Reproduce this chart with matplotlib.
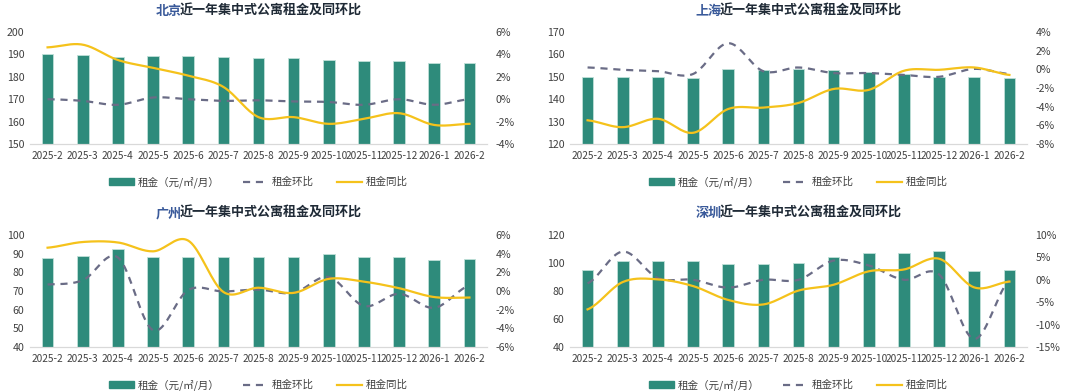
import numpy as np
import matplotlib
matplotlib.use("Agg")
import matplotlib.pyplot as plt
from matplotlib.patches import Patch
from matplotlib.lines import Line2D

plt.rcParams['font.family'] = ['Noto Sans CJK SC', 'DejaVu Sans']

months = ["2025-2", "2025-3", "2025-4", "2025-5", "2025-6", "2025-7", "2025-8",
          "2025-9", "2025-10", "2025-11", "2025-12", "2026-1", "2026-2"]

cities = ["北京", "上海", "广州", "深圳"]

bj_rent = [190.3, 189.9, 189.0, 189.3, 189.3, 189.0, 188.5, 188.2, 187.6, 187.0, 187.0, 186.0, 186.0]
bj_yoy = [4.63, 4.87, 3.5, 2.8, 2.1, 1.1, -1.6, -1.6, -2.2, -1.75, -1.25, -2.3, -2.2]
bj_mom = [0.0, -0.15, -0.5, 0.15, 0.0, -0.15, -0.1, -0.2, -0.25, -0.5, 0.0, -0.5, 0.0]

sh_rent = [150.0, 150.0, 150.0, 149.5, 153.6, 153.2, 153.6, 152.9, 152.1, 151.4, 150.0, 150.0, 149.3]
sh_yoy = [-5.46, -6.2, -5.3, -6.8, -4.25, -4.1, -3.6, -2.1, -2.2, -0.15, -0.05, 0.2, -0.6]
sh_mom = [0.2, -0.05, -0.2, -0.5, 2.8, -0.2, 0.2, -0.4, -0.4, -0.6, -0.8, 0.05, -0.5]

gz_rent = [87.9, 88.9, 92.3, 88.0, 88.0, 88.0, 88.4, 88.4, 89.6, 88.0, 88.0, 86.6, 87.0]
gz_yoy = [4.64, 5.25, 5.2, 4.25, 5.4, -0.1, 0.35, -0.2, 1.3, 1.0, 0.3, -0.65, -0.7]
gz_mom = [0.7, 1.15, 3.6, -4.2, 0.1, -0.05, 0.15, -0.2, 1.5, -1.6, -0.3, -1.8, 0.6]

sz_rent = [94.8, 101.2, 101.7, 101.7, 99.5, 99.5, 100.2, 104.3, 107.4, 107.4, 108.6, 94.3, 94.8]
sz_yoy = [-6.6, -0.5, 0.1, -1.4, -4.5, -5.5, -2.4, -1.1, 1.9, 2.3, 4.7, -1.7, -0.4]
sz_mom = [-0.8, 6.3, 0.4, 0.0, -1.75, 0.0, 0.0, 4.3, 3.2, 0.0, 1.2, -13.2, -0.1]

left_ticks = [list(range(150, 201, 10)), list(range(120, 171, 10)),
              list(range(40, 101, 10)), list(range(40, 121, 20))]
right_ticks = [list(range(-4, 7, 2)), list(range(-8, 5, 2)),
               list(range(-6, 7, 2)), list(range(-15, 11, 5))]

rent_label = "租金（元/㎡/月）"
mom_label = "租金环比"
yoy_label = "租金同比"
title_rest = "近一年集中式公寓租金及同环比"

BAR = "#2E8B7B"
YEL = "#F5C21B"
DASH = "#6A6C86"
TXT = "#404040"


def smooth(y, n=20):
    y = np.asarray(y, float)
    x = np.arange(len(y), dtype=float)
    p = np.concatenate([[y[0]], y, [y[-1]]])
    xs, ys = [], []
    for i in range(len(y) - 1):
        p0, p1, p2, p3 = p[i], p[i + 1], p[i + 2], p[i + 3]
        t = np.linspace(0, 1, n, endpoint=False)
        v = 0.5 * ((2 * p1) + (-p0 + p2) * t + (2 * p0 - 5 * p1 + 4 * p2 - p3) * t ** 2
                   + (-p0 + 3 * p1 - 3 * p2 + p3) * t ** 3)
        xs.append(x[i] + t)
        ys.append(v)
    xs.append([x[-1]])
    ys.append([y[-1]])
    return np.concatenate(xs), np.concatenate(ys)


fig = plt.figure(figsize=(10.8, 3.91), dpi=100)
fig.patch.set_facecolor("white")

positions = [
    (30 / 1080, 1 - 144 / 391, 457 / 1080, 112 / 391),
    (570 / 1080, 1 - 144 / 391, 457 / 1080, 112 / 391),
    (30 / 1080, 1 - 347 / 391, 457 / 1080, 112 / 391),
    (570 / 1080, 1 - 347 / 391, 457 / 1080, 112 / 391),
]
data = [(bj_rent, bj_yoy, bj_mom), (sh_rent, sh_yoy, sh_mom),
        (gz_rent, gz_yoy, gz_mom), (sz_rent, sz_yoy, sz_mom)]
title_y = [11 / 391, 11 / 391, 213 / 391, 213 / 391]

titles = []
for k in range(4):
    rent, yoy, mom = data[k]
    ax = fig.add_axes(positions[k])
    ax2 = ax.twinx()
    x = np.arange(len(months))
    ax.bar(x, rent, width=0.33, color=BAR, edgecolor="#BFE0D8", linewidth=0.6, zorder=2)
    lt = left_ticks[k]
    ax.set_ylim(lt[0], lt[-1])
    ax.set_yticks(lt)
    ax.set_xlim(-0.5, len(months) - 0.5)
    ax.set_xticks(x)
    ax.set_xticklabels(months)
    rt = right_ticks[k]
    ax2.set_ylim(rt[0], rt[-1])
    ax2.set_yticks(rt)
    ax2.set_yticklabels([f"{v}%" for v in rt])
    xm, ym = smooth(mom)
    xy, yy = smooth(yoy)
    ax2.plot(xm, ym, color=DASH, lw=1.6, dashes=(3.2, 2.6), zorder=3)
    ax2.plot(xy, yy, color=YEL, lw=1.6, zorder=4)
    for a in (ax, ax2):
        for s in ("top", "left", "right"):
            a.spines[s].set_visible(False)
        a.spines["bottom"].set_color("#D9D9D9")
        a.tick_params(length=0, labelsize=7.6, colors=TXT)
    ax.tick_params(axis="x", labelsize=7.3, pad=5)
    ax.tick_params(axis="y", pad=4)
    ax2.tick_params(axis="y", pad=6)

    # title: city in blue, rest in dark (placed right after the city text)
    cx = positions[k][0] + positions[k][2] / 2
    ty = 1 - title_y[k]
    t1 = ax2.text(cx, ty, cities[k], ha="left", va="center", fontsize=9.4,
                  fontweight="bold", color="#3A5A9A", transform=fig.transFigure,
                  clip_on=False)
    t2 = ax2.annotate(title_rest, xy=(1, 0.5), xycoords=t1, xytext=(-2.5, 0),
                      textcoords="offset pixels", ha="left", va="center",
                      fontsize=9.4, fontweight="bold", color="#1F2A36",
                      annotation_clip=False)
    titles.append((cx, t1, t2))

    handles = [Patch(facecolor=BAR, edgecolor=BAR),
               Line2D([], [], color=DASH, lw=1.6, dashes=(3.2, 2.6)),
               Line2D([], [], color=YEL, lw=1.6)]
    ly = 1 - (182 / 391 if k < 2 else 385 / 391)
    fig.legend(handles, [rent_label, mom_label, yoy_label], loc="center",
               bbox_to_anchor=(cx, ly), ncol=3, frameon=False, fontsize=7.6,
               handlelength=2.4, handleheight=0.6, columnspacing=2.2,
               handletextpad=0.35, labelcolor=TXT)

fig.canvas.draw()
renderer = fig.canvas.get_renderer()
W = fig.bbox.width
for cx, t1, t2 in titles:
    b1 = t1.get_window_extent(renderer)
    b2 = t2.get_window_extent(renderer)
    total = (b2.x1 - b1.x0) / W
    t1.set_x(cx - total / 2)

fig.savefig("out.png", dpi=100, facecolor="white")
